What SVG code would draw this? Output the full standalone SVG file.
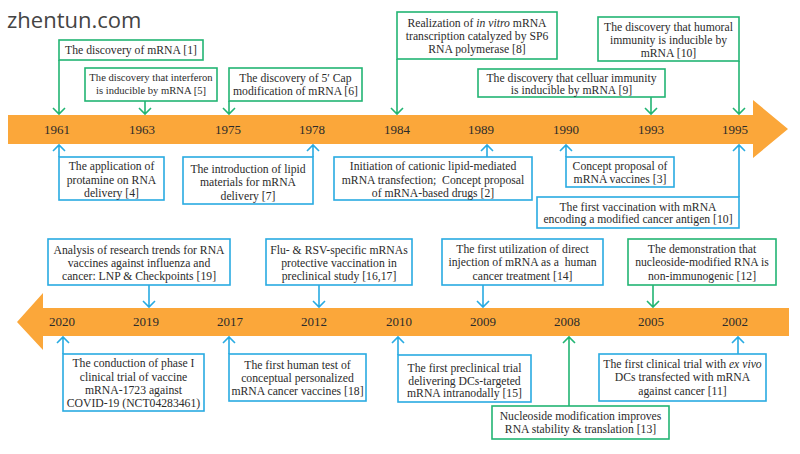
<svg xmlns="http://www.w3.org/2000/svg" width="800" height="454" viewBox="0 0 800 454" font-family="'Liberation Serif', 'DejaVu Serif', serif">
<style>
.bg{fill:#ffffff}
.bar{fill:#FBA73A}
.yr{font-family:'Liberation Serif','DejaVu Serif',serif;font-size:13px;fill:#2b2b2b;text-anchor:middle}
.t{font-family:'Liberation Serif','DejaVu Serif',serif;font-size:11.7px;fill:#2b2b2b;text-anchor:middle}
.ts{font-size:10.6px}
.g{fill:#fff;stroke:#22B573;stroke-width:1.6}
.b{fill:#fff;stroke:#29ABE2;stroke-width:1.6}
.cg{fill:none;stroke:#22B573;stroke-width:1.6}
.cb{fill:none;stroke:#29ABE2;stroke-width:1.6}
.logo{font-family:'Open Sans','Liberation Sans',sans-serif;font-size:22px;fill:#444}
</style>
<rect class="bg" x="0" y="0" width="800" height="454"/>
<text class="logo" x="7" y="28">zhentun.com</text>

<g id="timeline-top">
<polygon class="bar" points="8,115 753,115 753,100 788,129 753,158 753,144 8,144"/>
<text class="yr" x="57" y="134">1961</text>
<text class="yr" x="142" y="134">1963</text>
<text class="yr" x="228" y="134">1975</text>
<text class="yr" x="312" y="134">1978</text>
<text class="yr" x="397" y="134">1984</text>
<text class="yr" x="481" y="134">1989</text>
<text class="yr" x="566" y="134">1990</text>
<text class="yr" x="651" y="134">1993</text>
<text class="yr" x="735" y="134">1995</text>
</g>

<g id="timeline-bottom">
<polygon class="bar" points="789,308 43,308 43,293 17,322 43,350 43,336 789,336"/>
<text class="yr" x="62" y="326">2020</text>
<text class="yr" x="146" y="326">2019</text>
<text class="yr" x="230" y="326">2017</text>
<text class="yr" x="314" y="326">2012</text>
<text class="yr" x="399" y="326">2010</text>
<text class="yr" x="483" y="326">2009</text>
<text class="yr" x="567" y="326">2008</text>
<text class="yr" x="651" y="326">2005</text>
<text class="yr" x="735" y="326">2002</text>
</g>

<g id="connectors">
<path class="cg" d="M59,60V114M53,108L59,114L65,108"/>
<path class="cg" d="M145,101V114M139,108L145,114L151,108"/>
<path class="cg" d="M229,101V114M223,108L229,114L235,108"/>
<path class="cg" d="M397,59V114M391,108L397,114L403,108"/>
<path class="cg" d="M651,97V114M645,108L651,114L657,108"/>
<path class="cg" d="M739,61V114M733,108L739,114L745,108"/>
<path class="cb" d="M59,157V145M53,151L59,145L65,151"/>
<path class="cb" d="M313,157V145M307,151L313,145L319,151"/>
<path class="cb" d="M487,157V145M481,151L487,145L493,151"/>
<path class="cb" d="M566,157V145M560,151L566,145L572,151"/>
<path class="cb" d="M739,197V145M733,151L739,145L745,151"/>
<path class="cb" d="M149,285V307M143,301L149,307L155,301"/>
<path class="cb" d="M319,285V307M313,301L319,307L325,301"/>
<path class="cb" d="M483,285V307M477,301L483,307L489,301"/>
<path class="cg" d="M653,285V307M647,301L653,307L659,301"/>
<path class="cb" d="M63,354V337M57,343L63,337L69,343"/>
<path class="cb" d="M229,354V337M223,343L229,337L235,343"/>
<path class="cb" d="M398,355V337M392,343L398,337L404,343"/>
<path class="cg" d="M569,406V337M563,343L569,337L575,343"/>
<path class="cb" d="M738,354V337M732,343L738,337L744,343"/>
</g>

<g id="n1">
<rect class="g" x="59" y="40" width="144" height="20"/>
<text class="t" x="131" y="54">The discovery of mRNA [1]</text>
</g>
<g id="n5">
<rect class="g" x="85" y="68" width="132" height="33"/>
<text class="t ts" x="151" y="81">The discovery that interferon</text>
<text class="t ts" x="151" y="94">is inducible by mRNA [5]</text>
</g>
<g id="n6">
<rect class="g" x="229" y="68" width="133" height="33"/>
<text class="t" x="295.5" y="82">The discovery of 5′ Cap</text>
<text class="t" x="295.5" y="95">modification of mRNA [6]</text>
</g>
<g id="n8">
<rect class="g" x="397" y="12" width="160" height="47"/>
<text class="t" x="477" y="27">Realization of <tspan font-style="italic">in vitro</tspan> mRNA</text>
<text class="t" x="477" y="40">transcription catalyzed by SP6</text>
<text class="t" x="477" y="53">RNA polymerase [8]</text>
</g>
<g id="n9">
<rect class="g" x="478" y="69" width="187" height="28"/>
<text class="t" x="571.5" y="82">The discovery that celluar immunity</text>
<text class="t" x="571.5" y="94">is inducible by mRNA [9]</text>
</g>
<g id="n10a">
<rect class="g" x="598" y="17" width="141" height="44"/>
<text class="t" x="668.5" y="31">The discovery that humoral</text>
<text class="t" x="668.5" y="44">immunity is inducible by</text>
<text class="t" x="668.5" y="57">mRNA [10]</text>
</g>

<g id="n4">
<rect class="b" x="59" y="157" width="105" height="43"/>
<text class="t" x="111.5" y="170">The application of</text>
<text class="t" x="111.5" y="184">protamine on RNA</text>
<text class="t" x="111.5" y="197">delivery [4]</text>
</g>
<g id="n7">
<rect class="b" x="183" y="157" width="130" height="47"/>
<text class="t" x="248" y="173">The introduction of lipid</text>
<text class="t" x="248" y="186">materials for mRNA</text>
<text class="t" x="248" y="200">delivery [7]</text>
</g>
<g id="n2">
<rect class="b" x="334" y="157" width="198" height="43"/>
<text class="t" x="433" y="170">Initiation of cationic lipid-mediated</text>
<text class="t" x="433" y="184" xml:space="preserve">mRNA transfection;  Concept proposal</text>
<text class="t" x="433" y="197">of mRNA-based drugs [2]</text>
</g>
<g id="n3">
<rect class="b" x="566" y="157" width="108" height="30"/>
<text class="t" x="620" y="170">Concept proposal of</text>
<text class="t" x="620" y="183">mRNA vaccines [3]</text>
</g>
<g id="n10b">
<rect class="b" x="537" y="197" width="202" height="31"/>
<text class="t" x="638" y="211">The first vaccination with mRNA</text>
<text class="t" x="638" y="223">encoding a modified cancer antigen [10]</text>
</g>

<g id="n19">
<rect class="b" x="48" y="239" width="182" height="46"/>
<text class="t" x="139" y="254">Analysis of research trends for RNA</text>
<text class="t" x="139" y="267">vaccines against influenza and</text>
<text class="t" x="139" y="280">cancer: LNP &amp; Checkpoints [19]</text>
</g>
<g id="n16">
<rect class="b" x="266" y="239" width="146" height="46"/>
<text class="t" x="339" y="254">Flu- &amp; RSV-specific mRNAs</text>
<text class="t" x="339" y="267">protective vaccination in</text>
<text class="t" x="339" y="280">preclinical study [16,17]</text>
</g>
<g id="n14">
<rect class="b" x="442" y="239" width="161" height="46"/>
<text class="t" x="522.5" y="253">The first utilization of direct</text>
<text class="t" x="522.5" y="266" xml:space="preserve">injection of mRNA as a  human</text>
<text class="t" x="522.5" y="280">cancer treatment [14]</text>
</g>
<g id="n12">
<rect class="g" x="628" y="239" width="148" height="46"/>
<text class="t" x="702" y="253">The demonstration that</text>
<text class="t" x="702" y="266">nucleoside-modified RNA is</text>
<text class="t" x="702" y="280">non-immunogenic [12]</text>
</g>

<g id="n-covid">
<rect class="b" x="63" y="354" width="141" height="57"/>
<text class="t" x="133.5" y="367">The conduction of phase I</text>
<text class="t" x="133.5" y="381">clinical trial of vaccine</text>
<text class="t" x="133.5" y="394">mRNA-1723 against</text>
<text class="t" x="133.5" y="407">COVID-19 (NCT04283461)</text>
</g>
<g id="n18">
<rect class="b" x="229" y="354" width="137" height="47"/>
<text class="t" x="297.5" y="369">The first human test of</text>
<text class="t" x="297.5" y="382">conceptual personalized</text>
<text class="t" x="297.5" y="395">mRNA cancer vaccines [18]</text>
</g>
<g id="n15">
<rect class="b" x="398" y="355" width="133" height="47"/>
<text class="t" x="464.5" y="372">The first preclinical trial</text>
<text class="t" x="464.5" y="385">delivering DCs-targeted</text>
<text class="t" x="464.5" y="397">mRNA intranodally [15]</text>
</g>
<g id="n13">
<rect class="g" x="492" y="406" width="177" height="33"/>
<text class="t" x="580.5" y="420">Nucleoside modification improves</text>
<text class="t" x="580.5" y="433">RNA stability &amp; translation [13]</text>
</g>
<g id="n11">
<rect class="b" x="599" y="354" width="167" height="47"/>
<text class="t" x="682.5" y="368">The first clinical trial with <tspan font-style="italic">ex vivo</tspan></text>
<text class="t" x="682.5" y="381">DCs transfected with mRNA</text>
<text class="t" x="682.5" y="395">against cancer [11]</text>
</g>
</svg>
